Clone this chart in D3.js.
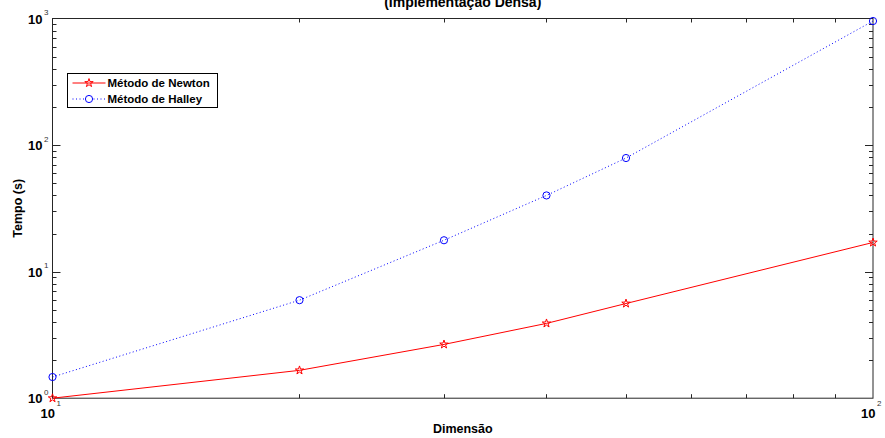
<!DOCTYPE html>
<html>
<head>
<meta charset="utf-8">
<script src="https://cdn.jsdelivr.net/npm/d3@7"></script>
<style>
  body { margin: 0; background: #fff; }
  svg { display: block; }
  text { font-family: "Liberation Sans", Arial, sans-serif; fill: #000; }
</style>
</head>
<body>
<svg id="chart"></svg>
<script>
// data
const dims = [10, 20, 30, 40, 50, 100];
const newton = [1.0, 1.66, 2.66, 3.9, 5.6, 17.0];
const halley = [1.47, 5.95, 17.7, 40.0, 79.0, 955];
const xMajor = [10, 100];
const xMinor = [20, 30, 40, 50, 60, 70, 80, 90];
const yMajor = [1, 10, 100, 1000];
const yMinor = [2, 3, 4, 5, 6, 7, 8, 9, 20, 30, 40, 50, 60, 70, 80, 90, 200, 300, 400, 500, 600, 700, 800, 900];
const seriesNames = ["Método de Newton", "Método de Halley"];

const width = 885, height = 438;
const margin = {top: 18.5, right: 12, bottom: 40, left: 52.5};

const svg = d3.select("#chart").attr("width", width).attr("height", height);

const x = d3.scaleLog().domain([10, 100]).range([margin.left, width - margin.right]);
const y = d3.scaleLog().domain([1, 1000]).range([height - margin.bottom + 0.2, margin.top]);

const x0 = x.range()[0], x1 = x.range()[1];
const y0 = y.range()[0], y1 = y.range()[1];

const axisColor = "#262626";
const g = svg.append("g");

// box
g.append("rect")
    .attr("x", x0).attr("y", y1)
    .attr("width", x1 - x0).attr("height", y0 - y1)
    .attr("fill", "none").attr("stroke", axisColor).attr("stroke-width", 1);

// ticks (inward on all four sides)
function hTicks(vals, len) {
    vals.forEach(v => {
        const px = Math.round(x(v)) + 0.5;
        g.append("line").attr("x1", px).attr("x2", px).attr("y1", y0).attr("y2", y0 - len).attr("stroke", axisColor);
        g.append("line").attr("x1", px).attr("x2", px).attr("y1", y1).attr("y2", y1 + len).attr("stroke", axisColor);
    });
}
function vTicks(vals, len) {
    vals.forEach(v => {
        const py = Math.round(y(v)) + 0.5;
        g.append("line").attr("y1", py).attr("y2", py).attr("x1", x0).attr("x2", x0 + len).attr("stroke", axisColor);
        g.append("line").attr("y1", py).attr("y2", py).attr("x1", x1).attr("x2", x1 - len).attr("stroke", axisColor);
    });
}
hTicks(xMinor, 4);
vTicks(yMinor, 4);
vTicks(yMajor.slice(1, 3), 8);

// tick labels: 10 with superscript exponent
yMajor.forEach(v => {
    const e = Math.round(Math.log10(v));
    g.append("text")
        .attr("x", 42.5).attr("y", y(v) + 5)
        .attr("text-anchor", "end")
        .style("font-size", "13px").style("font-weight", "bold")
        .text("10");
    g.append("text")
        .attr("x", 44).attr("y", y(v) - 3.5)
        .style("font-size", "8px").style("fill", "#333")
        .text(e);
});
xMajor.forEach(v => {
    const e = Math.round(Math.log10(v));
    g.append("text")
        .attr("x", x(v) + 2.5).attr("y", 418)
        .attr("text-anchor", "end")
        .style("font-size", "13px").style("font-weight", "bold")
        .text("10");
    g.append("text")
        .attr("x", x(v) + 4).attr("y", 406)
        .style("font-size", "8px").style("fill", "#333")
        .text(e);
});

// title and axis labels
svg.append("text")
    .attr("x", (x0 + x1) / 2).attr("y", 7)
    .attr("text-anchor", "middle")
    .style("font-size", "14px").style("font-weight", "bold")
    .text("(Implementação Densa)");

svg.append("text")
    .attr("x", (x0 + x1) / 2).attr("y", 433)
    .attr("text-anchor", "middle")
    .style("font-size", "12.5px").style("font-weight", "bold")
    .text("Dimensão");

svg.append("text")
    .attr("transform", `translate(21.5, ${(y0 + y1) / 2}) rotate(-90)`)
    .attr("text-anchor", "middle")
    .style("font-size", "12.5px").style("font-weight", "bold")
    .text("Tempo (s)");

// series
const line = d3.line().x(d => x(d[0])).y(d => y(d[1]));
const newtonPts = dims.map((d, i) => [d, newton[i]]);
const halleyPts = dims.map((d, i) => [d, halley[i]]);

const star = d3.symbol().type(d3.symbolStar).size(22);

g.append("path").datum(halleyPts)
    .attr("d", line).attr("fill", "none")
    .attr("stroke", "#0000ff").attr("stroke-width", 1)
    .attr("stroke-dasharray", "1,2.5");
g.selectAll("circle.halley").data(halleyPts).join("circle")
    .attr("class", "halley")
    .attr("cx", d => x(d[0])).attr("cy", d => y(d[1])).attr("r", 3.6)
    .attr("fill", "none").attr("stroke", "#0000ff").attr("stroke-width", 1);

g.append("path").datum(newtonPts)
    .attr("d", line).attr("fill", "none")
    .attr("stroke", "#ff0000").attr("stroke-width", 1);
g.selectAll("path.newton").data(newtonPts).join("path")
    .attr("class", "newton")
    .attr("transform", d => `translate(${x(d[0])},${y(d[1])})`)
    .attr("d", star)
    .attr("fill", "none").attr("stroke", "#ff0000").attr("stroke-width", 1);

// legend
const leg = svg.append("g").attr("transform", "translate(67.5, 73.5)");
leg.append("rect").attr("width", 150).attr("height", 34)
    .attr("fill", "#fff").attr("stroke", "#000").attr("stroke-width", 1);

const rows = [
    {name: seriesNames[0], color: "#ff0000", dash: null, mark: "star"},
    {name: seriesNames[1], color: "#0000ff", dash: "1,2.5", mark: "circle"}
];
rows.forEach((r, i) => {
    const cy = 9.5 + i * 16;
    leg.append("line").attr("x1", 5).attr("x2", 38).attr("y1", cy).attr("y2", cy)
        .attr("stroke", r.color).attr("stroke-dasharray", r.dash);
    if (r.mark === "star") {
        leg.append("path").attr("transform", `translate(21.5,${cy})`).attr("d", star)
            .attr("fill", "none").attr("stroke", r.color);
    } else {
        leg.append("circle").attr("cx", 21.5).attr("cy", cy).attr("r", 3.6)
            .attr("fill", "#fff").attr("stroke", r.color);
    }
    leg.append("text").attr("x", 40).attr("y", cy + 4)
        .style("font-size", "11.5px").style("font-weight", "bold")
        .text(r.name);
});
</script>
</body>
</html>
